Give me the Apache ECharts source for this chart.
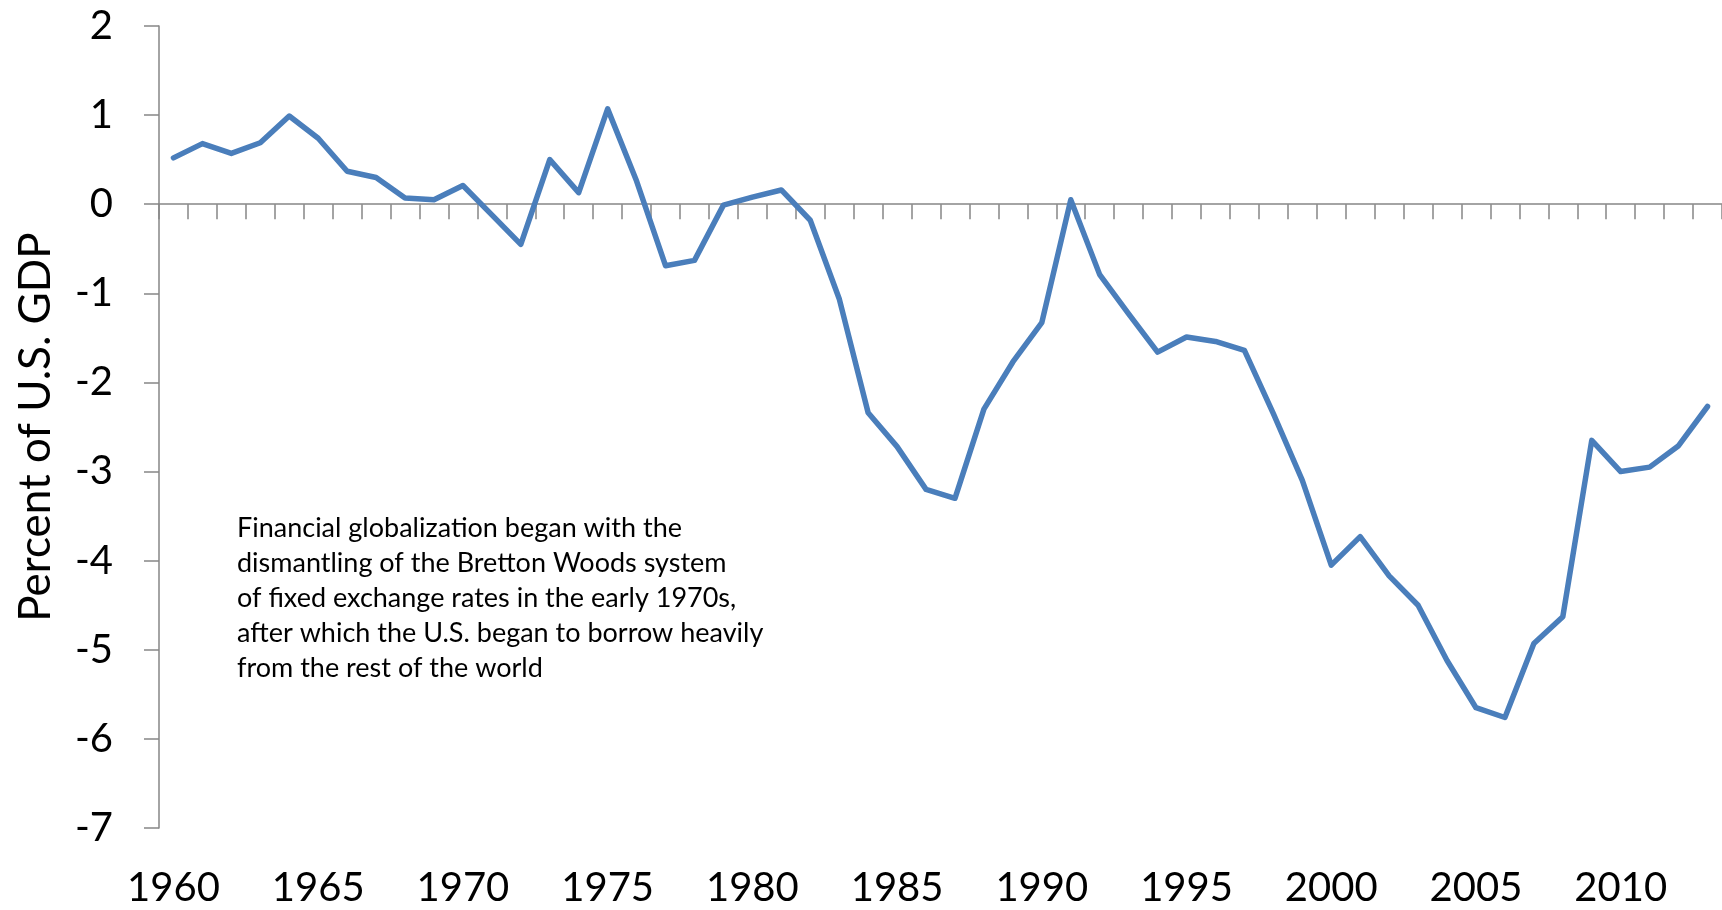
<!DOCTYPE html>
<html>
<head>
<meta charset="utf-8">
<script src="https://cdn.jsdelivr.net/npm/echarts@6/dist/echarts.min.js"></script>
<style>
  html, body { margin: 0; padding: 0; background: #ffffff; }
  #chart { width: 1722px; height: 910px; }
</style>
</head>
<body>
<div id="chart"></div>
<script>
// U.S. current account balance, percent of GDP, 1960–2013
const years = [];
for (let y = 1960; y <= 2013; y++) years.push(String(y));

const balance = [
  0.52, 0.68, 0.57, 0.69, 0.99, 0.74, 0.37, 0.30, 0.07, 0.05,
  0.21, -0.12, -0.45, 0.50, 0.13, 1.07, 0.26, -0.69, -0.63, -0.01,
  0.08, 0.16, -0.18, -1.06, -2.34, -2.72, -3.20, -3.30, -2.30, -1.77,
  -1.33, 0.05, -0.79, -1.23, -1.66, -1.49, -1.54, -1.64, -2.35, -3.10,
  -4.05, -3.73, -4.17, -4.50, -5.12, -5.65, -5.76, -4.93, -4.63, -2.65,
  -3.00, -2.95, -2.71, -2.27
];

const yTicks = { min: -7, max: 2, step: 1 };
const yTitle = 'Percent of U.S. GDP';
const note = [
  'Financial globalization began with the',
  'dismantling of the Bretton Woods system',
  'of fixed exchange rates in the early 1970s,',
  'after which the U.S. began to borrow heavily',
  'from the rest of the world'
];

const axisGrey = '#868686';
const font = 'Lato';

const chart = echarts.init(document.getElementById('chart'), null, { renderer: 'canvas' });
chart.setOption({
  animation: false,
  backgroundColor: '#ffffff',
  grid: { left: 159, right: -1, top: 26, bottom: 82, containLabel: false },
  xAxis: [
    {
      // axis line through zero with minor ticks between years
      type: 'category',
      data: years,
      boundaryGap: true,
      axisLine: { show: true, onZero: true, lineStyle: { color: axisGrey, width: 1.5 } },
      axisTick: { show: true, interval: 0, length: 15, lineStyle: { color: axisGrey, width: 1.5 } },
      axisLabel: { show: false },
      splitLine: { show: false }
    },
    {
      // year labels along the bottom edge
      type: 'category',
      data: years,
      boundaryGap: true,
      position: 'bottom',
      axisLine: { show: false, onZero: false },
      axisTick: { show: false },
      axisLabel: { show: true, interval: 4, margin: 40, fontFamily: font, fontSize: 40, color: '#000000' },
      splitLine: { show: false }
    }
  ],
  yAxis: {
    type: 'value',
    min: yTicks.min,
    max: yTicks.max,
    interval: yTicks.step,
    name: yTitle,
    nameLocation: 'middle',
    nameGap: 101,
    nameTextStyle: { fontFamily: font, fontSize: 44, color: '#000000' },
    axisLine: { show: true, lineStyle: { color: axisGrey, width: 1.5 } },
    axisTick: { show: true, length: 15, lineStyle: { color: axisGrey, width: 1.5 } },
    axisLabel: { margin: 46, fontFamily: font, fontSize: 40, color: '#000000' },
    splitLine: { show: false }
  },
  series: [{
    type: 'line',
    xAxisIndex: 0,
    data: balance,
    symbol: 'none',
    lineStyle: { color: '#4a7ebb', width: 5.5, cap: 'round', join: 'round' }
  }],
  graphic: [{
    type: 'text',
    left: 237,
    top: 511,
    style: {
      text: note.join('\n'),
      font: '27px Lato',
      lineHeight: 35,
      fill: '#000000'
    }
  }]
});
</script>
</body>
</html>
